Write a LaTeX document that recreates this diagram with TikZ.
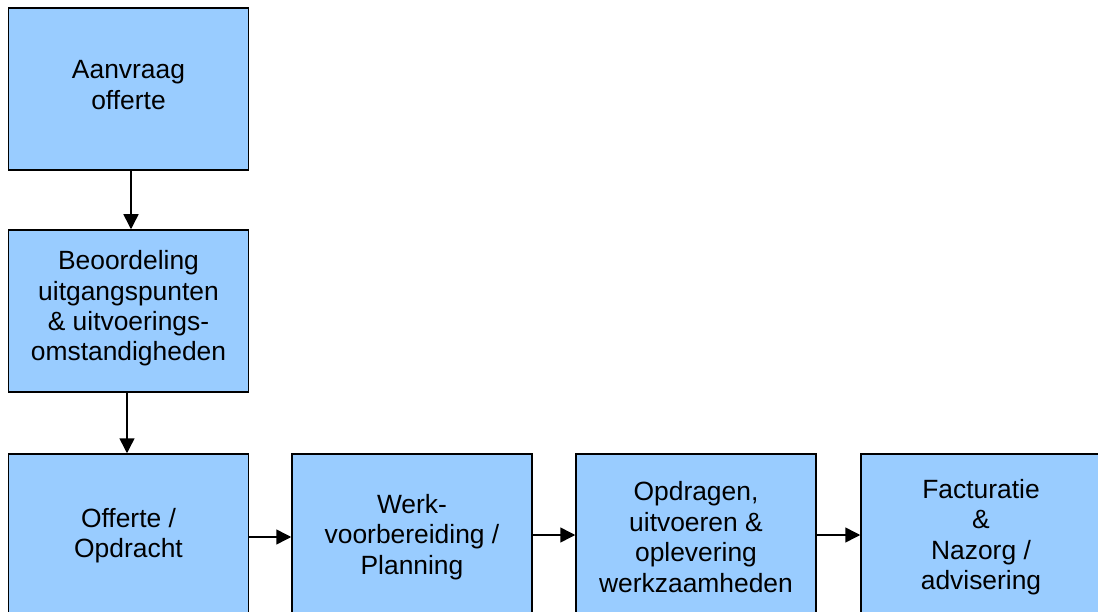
\documentclass[tikz,border=0pt]{standalone}
\usepackage{fontspec}
\setmainfont{Liberation Sans}
\usetikzlibrary{arrows.meta}
\definecolor{boxblue}{HTML}{99CCFF}
\tikzset{
  stepbox/.style={draw=black, fill=boxblue, line width=1.5pt, rectangle,
    minimum width=240pt, minimum height=162pt, align=center, inner sep=0pt,
    font=\fontsize{26.4}{30.4}\selectfont},
  lowbox/.style={stepbox, minimum height=166pt},
  arr/.style={line width=1.5pt, -{Triangle[length=15pt,width=15pt]}}
}
\begin{document}
\begin{tikzpicture}[x=1pt,y=-1pt]
\useasboundingbox (0,0) rectangle (1098,612);
\clip (0,0) rectangle (1098,612);
\fill[white] (0,0) rectangle (1098,612);
\node[stepbox] (b1) at (128.5,89) {Aanvraag\\offerte\\[-22pt]};
\node[stepbox] (b2) at (128.5,311) {Beoordeling\\uitgangspunten\\\& uitvoerings-\\omstandigheden\\[-20pt]};
\node[lowbox] (b3) at (128.5,537) {Offerte /\\Opdracht\\[-22pt]};
\node[lowbox] (b4) at (412,537) {Werk-\\voorbereiding /\\Planning};
\node[lowbox] (b5) at (696,537) {Opdragen,\\uitvoeren \&\\oplevering\\werkzaamheden};
\node[lowbox] (b6) at (981,537) {Facturatie\\\&\\Nazorg /\\advisering};
\draw[arr] ([xshift=2.5pt]b1.south) -- ([xshift=2.5pt]b2.north);
\draw[arr] ([xshift=-1.5pt]b2.south) -- ([xshift=-1.5pt]b3.north);
\draw[arr] (b3.east) -- (b4.west);
\draw[arr] ([yshift=2pt]b4.east) -- ([yshift=2pt]b5.west);
\draw[arr] ([yshift=2pt]b5.east) -- ([yshift=2pt]b6.west);
\end{tikzpicture}
\end{document}
